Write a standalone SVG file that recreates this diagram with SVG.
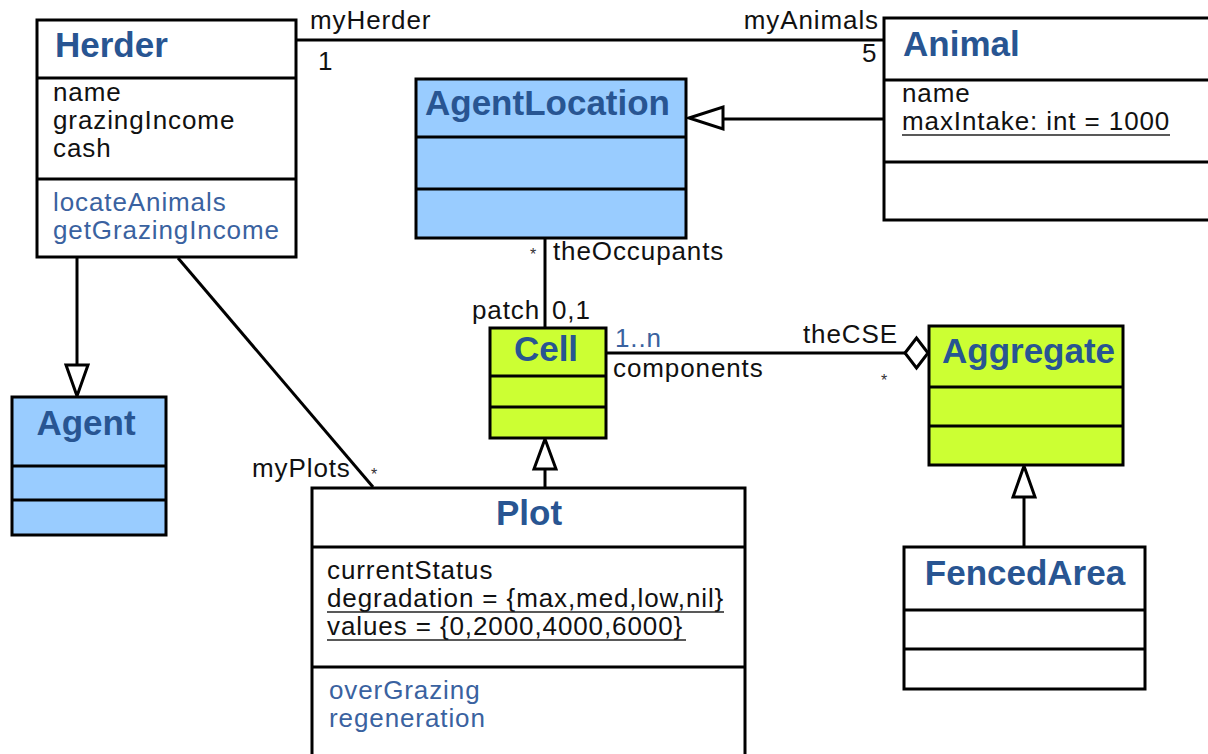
<svg xmlns="http://www.w3.org/2000/svg" width="1208" height="754" viewBox="0 0 1208 754">
  <style>
    .box { stroke: #000; stroke-width: 3; }
    .plain { fill: #fff; }
    .blue { fill: #99ccff; }
    .lime { fill: #ccff33; }
    .div { stroke: #000; stroke-width: 3; }
    .title { font-family: "Liberation Sans", Arial, sans-serif; font-weight: bold; font-size: 35px; fill: #285592; }
    .txt { font-family: "Liberation Sans", Arial, sans-serif; font-size: 26px; letter-spacing: 0.9px; fill: #111; }
    .op { fill: #3a62a0; }
    .small { font-family: "Liberation Sans", Arial, sans-serif; font-size: 16px; fill: #333; }
    .line { stroke: #000; stroke-width: 3; fill: none; }
    .ul { stroke: #222; stroke-width: 1.5; }
    .head { fill: #fff; stroke: #000; stroke-width: 3; stroke-linejoin: miter; }
  </style>

  <!-- connectors -->
  <g id="connectors">
    <!-- Herder - Animal association -->
    <line class="line" x1="296" y1="40" x2="884" y2="40"/>
    <text class="txt" x="310" y="29">myHerder</text>
    <text class="txt" x="318" y="70">1</text>
    <text class="txt" x="879" y="29" text-anchor="end">myAnimals</text>
    <text class="txt" x="862" y="62">5</text>

    <!-- Animal generalizes AgentLocation -->
    <line class="line" x1="723" y1="119" x2="884" y2="119"/>
    <polygon class="head" points="689,118 723,107 723,129"/>

    <!-- AgentLocation - Cell association -->
    <line class="line" x1="545" y1="238" x2="545" y2="328"/>
    <text class="small" x="530" y="260">*</text>
    <text class="txt" x="553" y="260">theOccupants</text>
    <text class="txt" x="472" y="319">patch</text>
    <text class="txt" x="552" y="319">0,1</text>

    <!-- Cell - Aggregate aggregation -->
    <line class="line" x1="606" y1="353" x2="905" y2="353"/>
    <polygon class="head" points="905,353 916.5,338 928,353 916.5,368"/>
    <text class="txt op" x="615" y="347">1..n</text>
    <text class="txt" x="613" y="377">components</text>
    <text class="txt" x="803" y="343">theCSE</text>
    <text class="small" x="881" y="386">*</text>

    <!-- Herder generalizes Agent -->
    <line class="line" x1="77" y1="257" x2="77" y2="365"/>
    <polygon class="head" points="77,396 66,365 88,365"/>

    <!-- Herder - Plot association -->
    <line class="line" x1="178" y1="258" x2="373" y2="487"/>
    <text class="txt" x="252" y="477">myPlots</text>
    <text class="small" x="371" y="480">*</text>

    <!-- Plot generalizes Cell -->
    <line class="line" x1="545" y1="469" x2="545" y2="488"/>
    <polygon class="head" points="545,439 534,469 556,469"/>

    <!-- FencedArea generalizes Aggregate -->
    <line class="line" x1="1024" y1="497" x2="1024" y2="547"/>
    <polygon class="head" points="1024,466 1013,497 1035,497"/>
  </g>

  <!-- Herder -->
  <g id="herder">
    <rect class="box plain" x="37" y="20" width="259" height="237"/>
    <line class="div" x1="37" y1="78" x2="296" y2="78"/>
    <line class="div" x1="37" y1="179" x2="296" y2="179"/>
    <text class="title" x="55" y="57">Herder</text>
    <text class="txt" x="53" y="101">name</text>
    <text class="txt" x="53" y="129">grazingIncome</text>
    <text class="txt" x="53" y="157">cash</text>
    <text class="txt op" x="53" y="211">locateAnimals</text>
    <text class="txt op" x="53" y="239">getGrazingIncome</text>
  </g>

  <!-- Animal -->
  <g id="animal">
    <rect class="box plain" x="884" y="18" width="340" height="202"/>
    <line class="div" x1="884" y1="80" x2="1224" y2="80"/>
    <line class="div" x1="884" y1="162" x2="1224" y2="162"/>
    <text class="title" x="903" y="56">Animal</text>
    <text class="txt" x="902" y="102">name</text>
    <text class="txt" x="902" y="130">maxIntake: int = 1000</text>
    <line class="ul" x1="902" y1="135" x2="1170" y2="135"/>
  </g>

  <!-- AgentLocation -->
  <g id="agentlocation">
    <rect class="box blue" x="416" y="79" width="270" height="159"/>
    <line class="div" x1="416" y1="137" x2="686" y2="137"/>
    <line class="div" x1="416" y1="189" x2="686" y2="189"/>
    <text class="title" x="425" y="115">AgentLocation</text>
  </g>

  <!-- Cell -->
  <g id="cell">
    <rect class="box lime" x="490" y="328" width="116" height="110"/>
    <line class="div" x1="490" y1="376" x2="606" y2="376"/>
    <line class="div" x1="490" y1="407" x2="606" y2="407"/>
    <text class="title" x="546" y="361" text-anchor="middle">Cell</text>
  </g>

  <!-- Aggregate -->
  <g id="aggregate">
    <rect class="box lime" x="929" y="326" width="194" height="139"/>
    <line class="div" x1="929" y1="387" x2="1123" y2="387"/>
    <line class="div" x1="929" y1="426" x2="1123" y2="426"/>
    <text class="title" x="942" y="363">Aggregate</text>
  </g>

  <!-- Agent -->
  <g id="agent">
    <rect class="box blue" x="12" y="397" width="154" height="138"/>
    <line class="div" x1="12" y1="466" x2="166" y2="466"/>
    <line class="div" x1="12" y1="500" x2="166" y2="500"/>
    <text class="title" x="86" y="435" text-anchor="middle">Agent</text>
  </g>

  <!-- Plot -->
  <g id="plot">
    <rect class="box plain" x="312" y="488" width="433" height="280"/>
    <line class="div" x1="312" y1="547" x2="745" y2="547"/>
    <line class="div" x1="312" y1="667" x2="745" y2="667"/>
    <text class="title" x="529" y="525" text-anchor="middle">Plot</text>
    <text class="txt" x="327" y="579">currentStatus</text>
    <text class="txt" x="327" y="607">degradation = {max,med,low,nil}</text>
    <line class="ul" x1="327" y1="612" x2="724" y2="612"/>
    <text class="txt" x="327" y="635">values = {0,2000,4000,6000}</text>
    <line class="ul" x1="327" y1="640" x2="686" y2="640"/>
    <text class="txt op" x="329" y="699">overGrazing</text>
    <text class="txt op" x="329" y="727">regeneration</text>
  </g>

  <!-- FencedArea -->
  <g id="fencedarea">
    <rect class="box plain" x="904" y="547" width="241" height="142"/>
    <line class="div" x1="904" y1="610" x2="1145" y2="610"/>
    <line class="div" x1="904" y1="649" x2="1145" y2="649"/>
    <text class="title" x="1025" y="585" text-anchor="middle">FencedArea</text>
  </g>
</svg>
